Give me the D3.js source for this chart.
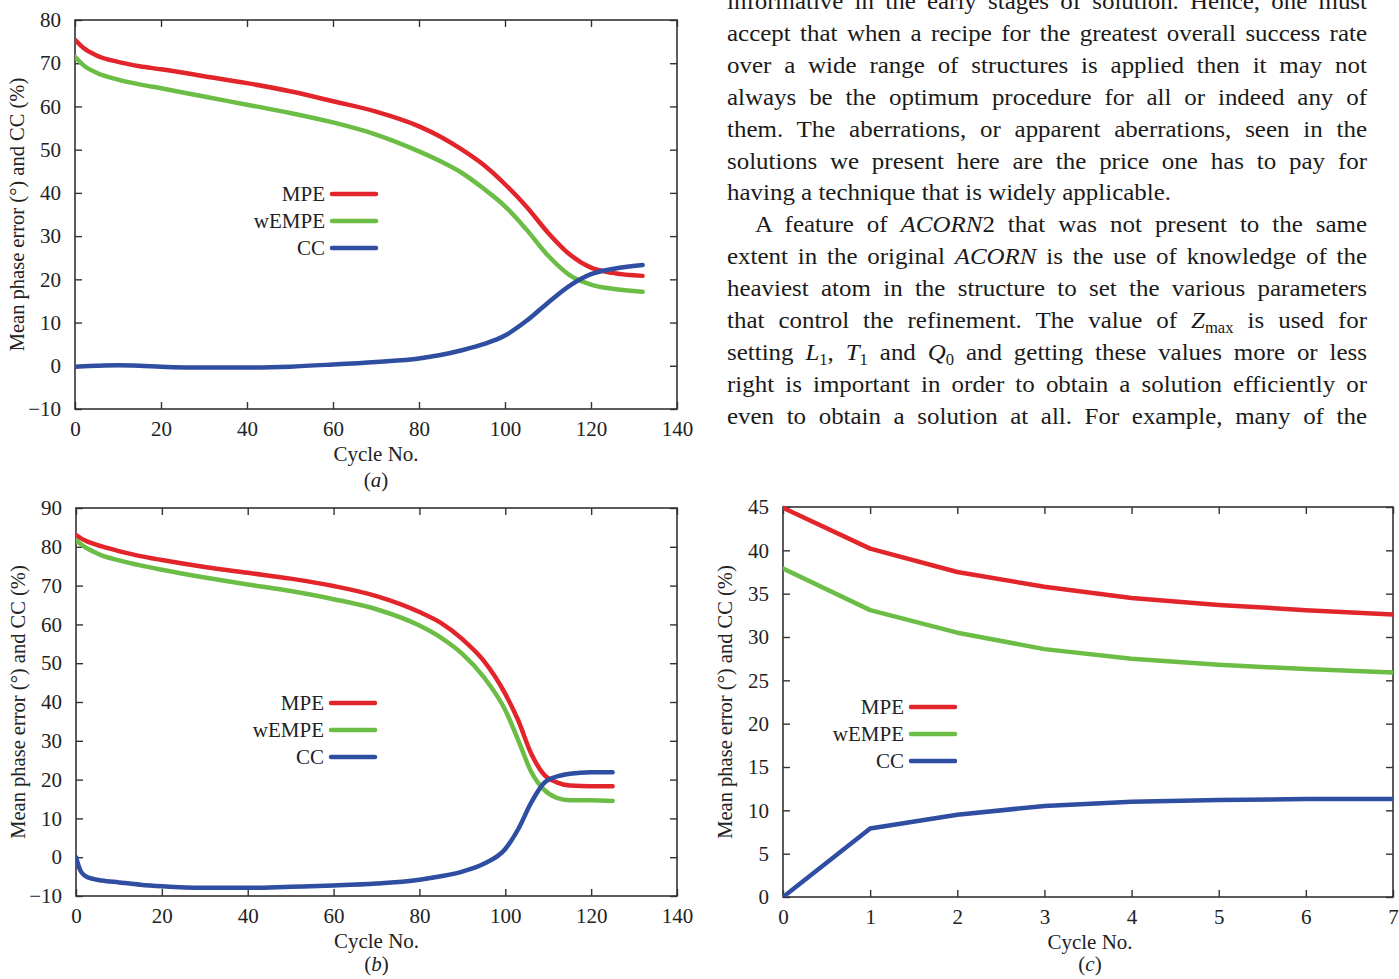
<!DOCTYPE html>
<html>
<head>
<meta charset="utf-8">
<script src="https://cdn.jsdelivr.net/npm/d3@7"></script>
<style>
  html, body { margin: 0; padding: 0; background: #fff; }
  svg { display: block; font-family: "Liberation Serif", "Times New Roman", serif; }
  svg text { font-family: "Liberation Serif", "Times New Roman", serif; }
</style>
</head>
<body>
<svg id="page" width="1399" height="979"></svg>
<script>
// ---- data ----
var seriesNames = ["MPE", "wEMPE", "CC"];
var seriesColors = ["#e2252b", "#6cbd45", "#2f4ea2"];

// panel (a)
var aCycle = [0, 2, 5, 10, 15, 20, 30, 40, 50, 60, 70, 80, 85, 90, 95, 100, 105, 110, 115, 120, 125, 132];
var aMPE   = [75.4, 73.5, 71.8, 70.3, 69.3, 68.6, 67.0, 65.4, 63.5, 61.2, 58.8, 55.4, 53.0, 50.0, 46.5, 42.0, 36.8, 30.8, 25.8, 22.7, 21.5, 20.8];
var aWEMPE = [71.5, 69.5, 67.8, 66.2, 65.1, 64.2, 62.3, 60.4, 58.5, 56.3, 53.5, 49.6, 47.3, 44.6, 41.0, 36.9, 31.5, 25.5, 21.0, 18.8, 17.8, 17.1];
var aCC    = [-0.2, -0.1, 0.0, 0.1, 0.0, -0.2, -0.4, -0.4, -0.2, 0.3, 0.9, 1.7, 2.5, 3.6, 5.0, 7.0, 10.4, 14.6, 18.5, 21.2, 22.4, 23.3];

// panel (b)
var bCycle = [0, 1, 2, 4, 6, 10, 15, 20, 30, 40, 50, 60, 70, 80, 85, 90, 95, 100, 103, 106, 109, 112, 115, 120, 125];
var bMPE   = [83.0, 82.3, 81.7, 80.8, 80.1, 78.9, 77.6, 76.6, 74.8, 73.3, 71.8, 69.9, 67.3, 63.2, 60.4, 56.2, 50.6, 42.1, 35.3, 26.8, 21.3, 19.3, 18.5, 18.3, 18.3];
var bWEMPE = [81.7, 80.8, 80.0, 78.8, 77.8, 76.5, 75.2, 74.1, 72.1, 70.3, 68.6, 66.5, 63.9, 59.7, 56.6, 52.4, 46.4, 37.9, 30.2, 22.1, 17.4, 15.3, 14.7, 14.7, 14.5];
var bCC    = [0, -3.4, -4.7, -5.6, -6.0, -6.5, -7.1, -7.5, -7.9, -7.9, -7.6, -7.3, -6.8, -5.8, -4.9, -3.7, -1.7, 2.1, 7.2, 14.0, 19.1, 20.8, 21.5, 21.9, 21.9];

// panel (c)
var cCycle = [0, 1, 2, 3, 4, 5, 6, 7];
var cMPE   = [44.9, 40.2, 37.5, 35.8, 34.5, 33.7, 33.1, 32.6];
var cWEMPE = [37.9, 33.1, 30.5, 28.6, 27.5, 26.8, 26.3, 25.9];
var cCC    = [0, 7.9, 9.5, 10.5, 11.0, 11.2, 11.3, 11.3];

// tick values
var aXTicks = [0, 20, 40, 60, 80, 100, 120, 140];
var aYTicks = [-10, 0, 10, 20, 30, 40, 50, 60, 70, 80];
var bYTicks = [-10, 0, 10, 20, 30, 40, 50, 60, 70, 80, 90];
var cXTicks = [0, 1, 2, 3, 4, 5, 6, 7];
var cYTicks = [0, 5, 10, 15, 20, 25, 30, 35, 40, 45];

var yLabel = "Mean phase error (\u00b0) and CC (%)";
var xLabel = "Cycle No.";

var svg = d3.select("#page");
var fmt = v => v < 0 ? "\u2212" + Math.abs(v) : String(v);

//Draws one framed panel with its three curves and its key.
function drawPanel(p) {
  var x = d3.scaleLinear().domain(p.xDomain).range([p.left, p.right]);
  var y = d3.scaleLinear().domain(p.yDomain).range([p.bottom, p.top]);
  var g = svg.append("g");
  var tl = 7;

  var clipId = "clip" + p.tag;
  g.append("clipPath").attr("id", clipId)
    .append("rect")
    .attr("x", p.left).attr("y", p.top - 3)
    .attr("width", p.right - p.left).attr("height", p.bottom - p.top + 3);

  //ticks on all four sides, pointing in
  g.append("g").attr("transform", "translate(0," + p.bottom + ")")
    .call(d3.axisBottom(x).tickValues(p.xTicks).tickSizeInner(-tl).tickSizeOuter(0).tickPadding(12).tickFormat(fmt));
  g.append("g").attr("transform", "translate(0," + p.top + ")")
    .call(d3.axisTop(x).tickValues(p.xTicks).tickSizeInner(-tl).tickSizeOuter(0).tickFormat(""));
  g.append("g").attr("transform", "translate(" + p.left + ",0)")
    .call(d3.axisLeft(y).tickValues(p.yTicks).tickSizeInner(-tl).tickSizeOuter(0).tickPadding(14).tickFormat(fmt));
  g.append("g").attr("transform", "translate(" + p.right + ",0)")
    .call(d3.axisRight(y).tickValues(p.yTicks).tickSizeInner(-tl).tickSizeOuter(0).tickFormat(""));

  g.selectAll(".domain").remove();
  g.selectAll("g").attr("font-family", null).attr("font-size", null);
  g.selectAll(".tick line").attr("stroke", "#333").attr("stroke-width", 1.4);
  g.selectAll(".tick text")
    .style("font-family", "'Liberation Serif', serif")
    .attr("font-size", 21)
    .attr("fill", "#222");

  g.append("rect")
    .attr("x", p.left).attr("y", p.top)
    .attr("width", p.right - p.left).attr("height", p.bottom - p.top)
    .attr("fill", "none").attr("stroke", "#333").attr("stroke-width", 1.6);

  var line = d3.line()
    .x(d => x(d[0]))
    .y(d => y(d[1]))
    .curve(p.curve);

  p.series.forEach((vals, i) => {
    g.append("path")
      .datum(p.cycles.map((c, k) => [c, vals[k]]))
      .attr("clip-path", "url(#" + clipId + ")")
      .attr("d", line)
      .attr("fill", "none")
      .attr("stroke", seriesColors[i])
      .attr("stroke-width", 4.5)
      .attr("stroke-linejoin", "round")
      .attr("stroke-linecap", "round");
  });

  //key
  seriesNames.forEach((name, i) => {
    var ky = p.top + p.keyTop + i * 27;
    g.append("text")
      .attr("x", p.left + p.keyX - 7)
      .attr("y", ky + 7)
      .attr("text-anchor", "end")
      .attr("font-size", 21)
      .attr("fill", "#222")
      .text(name);
    g.append("line")
      .attr("x1", p.left + p.keyX).attr("x2", p.left + p.keyX + 44)
      .attr("y1", ky).attr("y2", ky)
      .attr("stroke", seriesColors[i])
      .attr("stroke-width", 4.5)
      .attr("stroke-linecap", "round");
  });

  var cx = (p.left + p.right) / 2;
  g.append("text")
    .attr("transform", "translate(" + (p.left - 51) + "," + ((p.top + p.bottom) / 2) + ") rotate(-90)")
    .attr("text-anchor", "middle")
    .attr("font-size", 20.5)
    .attr("fill", "#222")
    .text(yLabel);
  g.append("text")
    .attr("x", p.xLabelX || cx).attr("y", p.bottom + 52)
    .attr("text-anchor", "middle")
    .attr("font-size", 21)
    .attr("fill", "#222")
    .text(xLabel);
  g.append("text")
    .attr("x", p.xLabelX || cx).attr("y", p.bottom + p.capGap)
    .attr("text-anchor", "middle")
    .attr("font-size", 21)
    .attr("fill", "#222")
    .html("(<tspan font-style='italic'>" + p.tag + "</tspan>)");
}

drawPanel({
  tag: "a", left: 75, right: 677, top: 20, bottom: 409,
  xDomain: [0, 140], yDomain: [-10, 80], xTicks: aXTicks, yTicks: aYTicks,
  cycles: aCycle, series: [aMPE, aWEMPE, aCC], curve: d3.curveMonotoneX,
  keyX: 257, keyTop: 174, capGap: 78
});

drawPanel({
  tag: "b", left: 76, right: 677, top: 508, bottom: 896,
  xDomain: [0, 140], yDomain: [-10, 90], xTicks: aXTicks, yTicks: bYTicks,
  cycles: bCycle, series: [bMPE, bWEMPE, bCC], curve: d3.curveMonotoneX,
  keyX: 255, keyTop: 195, capGap: 75
});

drawPanel({
  tag: "c", left: 783, right: 1393, top: 507, bottom: 897,
  xDomain: [0, 7], yDomain: [0, 45], xTicks: cXTicks, yTicks: cYTicks,
  cycles: cCycle, series: [cMPE, cWEMPE, cCC], curve: d3.curveLinear,
  keyX: 128, keyTop: 200, xLabelX: 1090, capGap: 74
});

// ---- body text to the right of panel (a) ----
// each line: list of [text, style]; style "i" italic, "sub" subscript, "" roman
var textLines = [
  [["informative in the early stages of solution. Hence, one must", ""]],
  [["accept that when a recipe for the greatest overall success rate", ""]],
  [["over a wide range of structures is applied then it may not", ""]],
  [["always be the optimum procedure for all or indeed any of", ""]],
  [["them. The aberrations, or apparent aberrations, seen in the", ""]],
  [["solutions we present here are the price one has to pay for", ""]],
  [["having a technique that is widely applicable.", ""]],
  [["A feature of ", ""], ["ACORN", "i"], ["2 that was not present to the same", ""]],
  [["extent in the original ", ""], ["ACORN", "i"], [" is the use of knowledge of the", ""]],
  [["heaviest atom in the structure to set the various parameters", ""]],
  [["that control the refinement. The value of ", ""], ["Z", "i"], ["max", "sub"], [" is used for", ""]],
  [["setting ", ""], ["L", "i"], ["1", "sub"], [", ", ""], ["T", "i"], ["1", "sub"], [" and ", ""], ["Q", "i"], ["0", "sub"], [" and getting these values more or less", ""]],
  [["right is important in order to obtain a solution efficiently or", ""]],
  [["even to obtain a solution at all. For example, many of the", ""]]
];
var lastLines = [6];
var indentLines = [7];

//the scanned type is a little wider than Liberation Serif, so stretch it
var textLeft = 727, textRight = 1367, firstBase = 9, lineGap = 31.9;
var textSize = 24, stretch = 1.04;

textLines.forEach((segs, i) => {
  var x0 = textLeft + (indentLines.includes(i) ? 28 : 0);
  var t = svg.append("text")
    .attr("transform", "translate(" + x0 + "," + (firstBase + i * lineGap) + ") scale(" + stretch + ",1)")
    .attr("font-size", textSize)
    .attr("fill", "#1a1a1a");
  segs.forEach((s, k) => {
    var ts = t.append("tspan").text(s[0]);
    if (s[1] === "i") ts.attr("font-style", "italic");
    if (s[1] === "sub") ts.attr("font-size", 16).attr("dy", 5);
    else if (k > 0 && segs[k - 1][1] === "sub") ts.attr("dy", -5);
  });
  if (!lastLines.includes(i)) {
    var natural = t.node().getComputedTextLength();
    var spaces = segs.map(s => s[0]).join("").split(" ").length - 1;
    var extra = ((textRight - x0) / stretch - natural) / spaces;
    t.attr("word-spacing", extra);
  }
});
</script>
</body>
</html>
